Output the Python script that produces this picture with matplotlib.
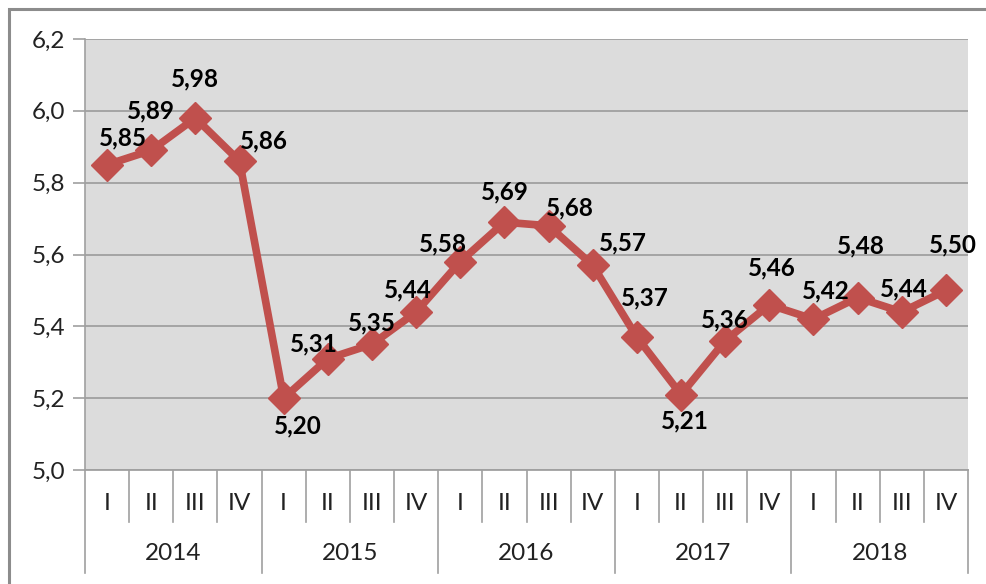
import matplotlib.pyplot as plt
from matplotlib.lines import Line2D
from matplotlib.patches import Rectangle

# Dados
anos = ['2014', '2015', '2016', '2017', '2018']
trimestres = ['I', 'II', 'III', 'IV']
valores = [5.85, 5.89, 5.98, 5.86,
           5.20, 5.31, 5.35, 5.44,
           5.58, 5.69, 5.68, 5.57,
           5.37, 5.21, 5.36, 5.46,
           5.42, 5.48, 5.44, 5.50]

# deslocamento dos rótulos (pixels)
desloc = [(16, 27), (0, 39), (0, 39), (24, 20),
          (14, -28), (-14, 15), (0, 21), (-8, 22),
          (-17, 18), (0, 30), (21, 18), (30, 22),
          (8, 39), (4, -26), (0, 21), (2, 37),
          (12, 28), (3, 52), (2, 23), (7, 45)]

plt.rcParams['font.family'] = ['Lato', 'DejaVu Sans']

fig = plt.figure(figsize=(9.86, 5.84), dpi=100)
ax = fig.add_axes([85/986, 114/584, 883/986, 431/584])

# moldura externa
fig.patches.append(Rectangle((9/986, -0.1), 1.2, (584-9)/584 + 0.1,
                             transform=fig.transFigure, fill=False,
                             edgecolor='#8c8c8c', linewidth=2.2))

ax.set_facecolor('#dcdcdc')
x = list(range(len(valores)))
ax.plot(x, valores, color='#c0504d', linewidth=5.5, marker='D',
        markersize=16, zorder=3)

for xi, v, (dx, dy) in zip(x, valores, desloc):
    ax.annotate(f'{v:.2f}'.replace('.', ','), (xi, v), xytext=(dx, dy),
                textcoords='offset pixels', ha='center', va='center',
                fontsize=17.5, fontweight='bold', color='black', zorder=4)

ax.set_xlim(-0.5, len(valores) - 0.5)
ax.set_ylim(5.0, 6.2)
ax.set_yticks([5.0, 5.2, 5.4, 5.6, 5.8, 6.0, 6.2])
ax.set_yticklabels([f'{t:.1f}'.replace('.', ',') for t in ax.get_yticks()],
                   fontsize=17.5, color='#222222')
ax.yaxis.grid(True, color='#a0a0a0', linewidth=1.3)
ax.set_axisbelow(True)
ax.tick_params(axis='y', length=9, width=1.2, color='#a0a0a0', pad=5)
ax.set_xticks([])

for s in ['top', 'right']:
    ax.spines[s].set_visible(False)
ax.spines['left'].set_color('#a0a0a0')
ax.spines['bottom'].set_color('#a0a0a0')
ax.spines['left'].set_linewidth(1.2)
ax.spines['bottom'].set_linewidth(1.3)

# eixo categórico em dois níveis
trans = ax.get_xaxis_transform()
for i in range(len(valores) + 1):
    y_fim = -0.239 if i % 4 == 0 else -0.1206
    ax.add_line(Line2D([i - 0.5, i - 0.5], [0, y_fim], transform=trans,
                       color='#a0a0a0', linewidth=1.2, clip_on=False))
for i in range(len(valores)):
    ax.text(i, -0.0766, trimestres[i % 4], transform=trans, ha='center',
            va='center', fontsize=17.5, color='#222222')
for j, ano in enumerate(anos):
    ax.text(j * 4 + 1.5, -0.193, ano, transform=trans, ha='center',
            va='center', fontsize=17.5, color='#222222')

plt.savefig('out.png', dpi=100)
